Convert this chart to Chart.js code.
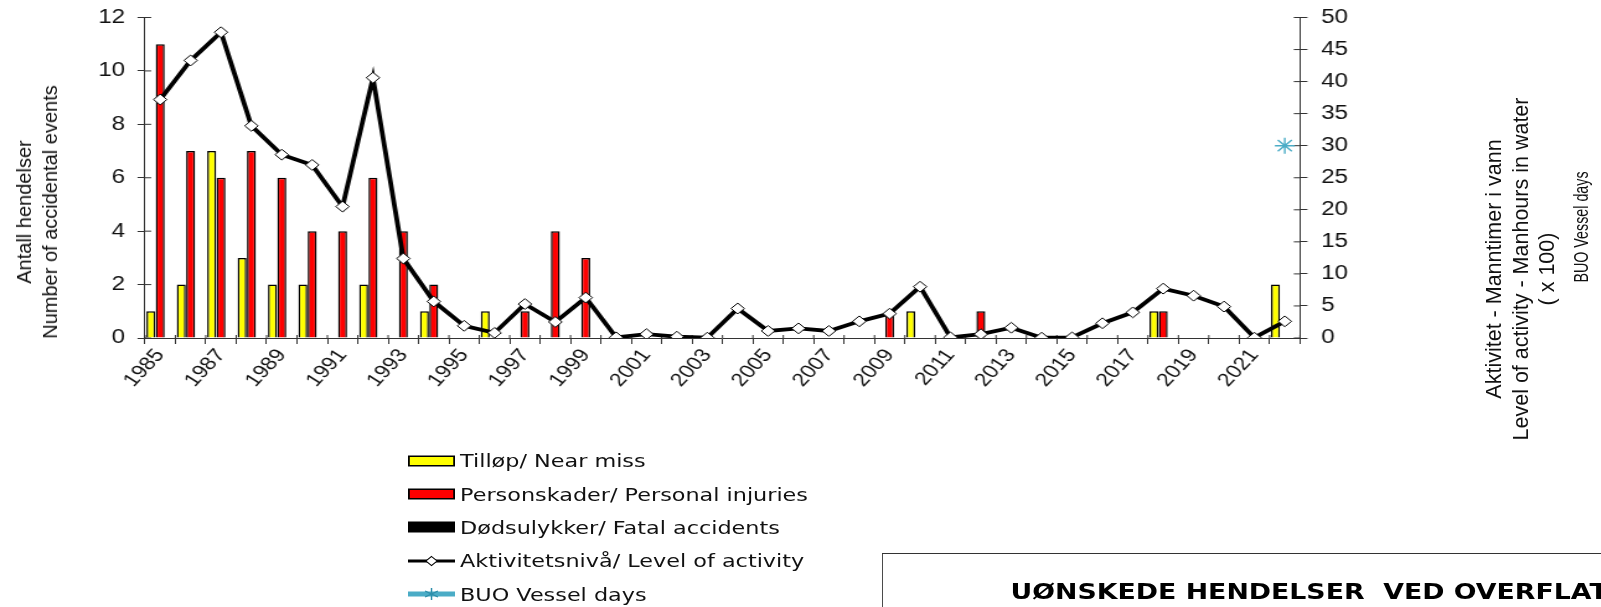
<!DOCTYPE html>
<html><head><meta charset="utf-8">
<script src="https://cdn.jsdelivr.net/npm/chart.js@4.4.1/dist/chart.umd.min.js"></script>
<style>
html,body{margin:0;padding:0;background:#fff;width:1601px;height:607px;overflow:hidden;}
#stage{position:absolute;left:0;top:0;width:1291px;height:607px;transform:scaleX(1.24);transform-origin:0 0;}
#c{position:absolute;left:0;top:0;}
.vt{position:absolute;transform:translate(-50%,-50%) rotate(-90deg);white-space:nowrap;text-align:center;color:#111;font-family:"Liberation Sans",Arial,sans-serif;}
#legend{position:absolute;left:329px;top:444px;font-family:"DejaVu Sans",Verdana,sans-serif;font-size:18px;color:#111;}
.li{display:flex;align-items:center;height:33.4px;white-space:nowrap;}
.li svg{margin-right:4px;flex:none;}
#box{position:absolute;left:711px;top:553px;width:800px;height:100px;border:1px solid #333;}
#boxtext{position:absolute;left:815px;top:581px;font:bold 21.6px "DejaVu Sans",Verdana,sans-serif;white-space:pre;line-height:21px;color:#000;}
</style></head>
<body><div id="stage"><canvas id="c" width="1291" height="607"></canvas>
<div id="legend"></div>
<div id="box"></div>
<div id="boxtext">UØNSKEDE HENDELSER  VED OVERFLATEDYKKING</div>
</div>
<div class="vt" style="left:37px;top:212px;font-size:20px;line-height:26px;">Antall hendelser<br>Number of accidental events</div>
<div class="vt" style="left:1521px;top:269px;font-size:21.5px;line-height:26.5px;">Aktivitet - Manntimer i vann<br>Level of activity - Manhours in water<br>( x 100)</div>
<div class="vt" style="left:1581px;top:227px;font-size:21px;transform:translate(-50%,-50%) rotate(-90deg) scaleX(0.68);">BUO Vessel days</div>
<script>
const years = ['1985','1986','1987','1988','1989','1990','1991','1992','1993','1994','1995','1996','1997','1998','1999','2000','2001','2002','2003','2004','2005','2006','2007','2008','2009','2010','2011','2012','2013','2014','2015','2016','2017','2018','2019','2020','2021','2022'];
const nearMiss = [1,2,7,3,2,2,0,2,0,1,0,1,0,0,0,0,0,0,0,0,0,0,0,0,0,1,0,0,0,0,0,0,0,1,0,0,0,2];
const personalInjuries = [11,7,6,7,6,4,4,6,4,2,0,0,1,4,3,0,0,0,0,0,0,0,0,0,1,0,0,1,0,0,0,0,0,1,0,0,0,0];
const fatalAccidents = [0,0,0,0,0,0,0,0,0,0,0,0,0,0,0,0,0,0,0,0,0,0,0,0,0,0,0,0,0,0,0,0,0,0,0,0,0,0];
const activityLevel = [37.2,43.3,47.7,33.1,28.6,27.0,20.5,40.6,12.4,5.7,1.9,0.8,5.3,2.5,6.3,0.1,0.6,0.2,0.05,4.6,1.1,1.5,1.1,2.6,3.8,8.0,0.1,0.6,1.6,0.05,0.1,2.3,4.0,7.7,6.6,4.9,0.05,2.6];
const vesselDays = [null,null,null,null,null,null,null,null,null,null,null,null,null,null,null,null,null,null,null,null,null,null,null,null,null,null,null,null,null,null,null,null,null,null,null,null,null,30];
const leftTicks = [0,2,4,6,8,10,12];
const rightTicks = [0,5,10,15,20,25,30,35,40,45,50];
const seriesNames = ['Tilløp/ Near miss','Personskader/ Personal injuries','Dødsulykker/ Fatal accidents','Aktivitetsnivå/ Level of activity','BUO Vessel days'];

const AX = '#333';
const innerTicks = {
  id:'innerTicks',
  beforeDatasetsDraw(chart){
    const ctx=chart.ctx, a=chart.chartArea;
    ctx.save(); ctx.strokeStyle=AX; ctx.lineWidth=1;
    ctx.beginPath();
    const x=chart.scales.x, n=x.ticks.length, w=(x.right-x.left)/n;
    for(let i=0;i<=n;i++){const px=x.left+i*w; ctx.moveTo(px,a.bottom); ctx.lineTo(px,a.bottom-3);}
    const y=chart.scales.y; y.ticks.forEach(t=>{const py=y.getPixelForValue(t.value); ctx.moveTo(a.left,py); ctx.lineTo(a.left+5,py);});
    const y1=chart.scales.y1; y1.ticks.forEach(t=>{const py=y1.getPixelForValue(t.value); ctx.moveTo(a.right,py); ctx.lineTo(a.right-5,py);});
    ctx.stroke(); ctx.restore();
  }
};
const noPad = (s)=>{ s.paddingTop=0; s.paddingBottom=0; s.paddingLeft=0; s.paddingRight=0; };

const tickFont = {family:'"Liberation Sans", Arial, sans-serif', size:19.5};
const chart = new Chart(document.getElementById('c'), {
  type:'bar',
  data:{
    labels: years,
    datasets:[
      {type:'line', label:seriesNames[3], data:activityLevel, yAxisID:'y1', borderColor:'#000', borderWidth:3.8, pointStyle:'rectRot', pointRadius:5.4, pointBackgroundColor:'#fff', pointBorderColor:'#000', pointBorderWidth:1, order:0, tension:0},
      {type:'line', label:seriesNames[4], data:vesselDays, yAxisID:'y1', borderColor:'#4bacc6', borderWidth:5, pointStyle:'star', pointRadius:8, pointBorderColor:'#4bacc6', pointBackgroundColor:'#4bacc6', pointBorderWidth:1.4, order:0},
      {label:seriesNames[0], data:nearMiss, backgroundColor:'#ffff00', borderColor:'#000', borderWidth:1.5, yAxisID:'y', order:1},
      {label:seriesNames[1], data:personalInjuries, backgroundColor:'#ff0000', borderColor:'#000', borderWidth:1.5, yAxisID:'y', order:1},
      {label:seriesNames[2], data:fatalAccidents, backgroundColor:'#000000', borderColor:'#000', borderWidth:1.5, yAxisID:'y', order:1}
    ]
  },
  options:{
    responsive:false, animation:false, devicePixelRatio:1,
    layout:{padding:{top:17.5,left:0,right:0,bottom:0}},
    datasets:{bar:{categoryPercentage:0.92, barPercentage:0.96}},
    plugins:{legend:{display:false}, title:{display:false}, tooltip:{enabled:false}},
    scales:{
      x:{
        offset:true,
        grid:{display:true, offset:true, drawOnChartArea:false, drawTicks:true, tickLength:6, color:AX},
        border:{display:true, color:AX, width:1},
        ticks:{autoSkip:false, minRotation:52, maxRotation:52, padding:1, color:'#111', font:{family:'"Liberation Sans", Arial, sans-serif', size:18.5},
          callback:(v,i)=> i%2===0 ? years[i] : ''},
        afterFit:(s)=>{ s.height = 607-338; noPad(s); }
      },
      y:{
        position:'left', min:0, max:12,
        afterBuildTicks:(s)=>{ s.ticks = leftTicks.map(v=>({value:v})); },
        grid:{drawOnChartArea:false, drawTicks:true, tickLength:6, color:AX},
        border:{display:true, color:AX, width:1},
        ticks:{padding:10, color:'#111', font:tickFont},
        afterFit:(s)=>{ s.width = 145/1.24; noPad(s); }
      },
      y1:{
        position:'right', min:0, max:50,
        afterBuildTicks:(s)=>{ s.ticks = rightTicks.map(v=>({value:v})); },
        grid:{drawOnChartArea:false, drawTicks:true, tickLength:6, color:AX},
        border:{display:true, color:AX, width:1},
        ticks:{padding:11, color:'#111', font:tickFont},
        afterFit:(s)=>{ s.width = 1291 - 1300/1.24; noPad(s); }
      }
    }
  },
  plugins:[innerTicks]
});

function swatch(ds){
  const ns='http://www.w3.org/2000/svg';
  const svg=document.createElementNS(ns,'svg'); svg.setAttribute('width','38'); svg.setAttribute('height','14');
  if(ds.type==='line'){
    const l=document.createElementNS(ns,'line'); l.setAttribute('x1','0'); l.setAttribute('x2','38'); l.setAttribute('y1','7'); l.setAttribute('y2','7');
    l.setAttribute('stroke',ds.borderColor); l.setAttribute('stroke-width', ds.borderWidth>4.5?'5':'3'); svg.appendChild(l);
    if(ds.pointStyle==='rectRot'){
      const p=document.createElementNS(ns,'polygon'); p.setAttribute('points','19,2.5 23.5,7 19,11.5 14.5,7');
      p.setAttribute('fill','#fff'); p.setAttribute('stroke','#000'); p.setAttribute('stroke-width','1'); svg.appendChild(p);
    } else {
      const g=document.createElementNS(ns,'path'); g.setAttribute('d','M19,1 L19,13 M13.8,4 L24.2,10 M13.8,10 L24.2,4');
      g.setAttribute('stroke','#2e8fab'); g.setAttribute('stroke-width','1.2'); svg.appendChild(g);
    }
  } else {
    const r=document.createElementNS(ns,'rect'); r.setAttribute('x','0.75'); r.setAttribute('y','2.25'); r.setAttribute('width','36.5'); r.setAttribute('height','9.5');
    r.setAttribute('fill',ds.backgroundColor); r.setAttribute('stroke','#000'); r.setAttribute('stroke-width','1.5'); svg.appendChild(r);
  }
  return svg;
}
const lg=document.getElementById('legend');
const orderIdx=[2,3,4,0,1];
orderIdx.forEach(i=>{
  const ds=chart.data.datasets[i];
  const row=document.createElement('div'); row.className='li';
  row.appendChild(swatch(ds));
  const t=document.createElement('span'); t.textContent=ds.label; row.appendChild(t);
  lg.appendChild(row);
});
</script>
</body></html>
